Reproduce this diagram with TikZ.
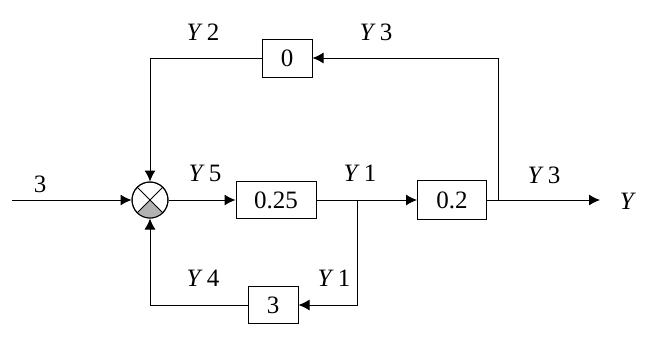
\documentclass[tikz,border=0pt]{standalone}
\usepackage{fontspec}
\setmainfont{Liberation Serif}
\usetikzlibrary{arrows.meta,positioning}

\begin{document}
\begin{tikzpicture}[
    x=0.5pt, y=-0.5pt,
    every node/.style={font=\fontsize{12.5}{14}\selectfont},
    block/.style={draw, line width=0.5pt, inner sep=0pt, minimum height=18.5pt},
    summer/.style={draw, circle, line width=0.5pt, inner sep=0pt, minimum size=18pt},
    flow/.style={-{Latex[length=5.5pt, width=5.5pt]}, line width=0.5pt},
    link/.style={line width=0.5pt}
]
\useasboundingbox (0,0) rectangle (668,337);

\node[summer] (sum) at (150,200) {};
\fill[gray!60] (sum.center) -- (sum.-45) arc[start angle=-45, end angle=-135, radius=9pt] -- cycle;
\draw[line width=0.5pt] (sum.45) -- (sum.-135);
\draw[line width=0.5pt] (sum.135) -- (sum.-45);
\draw[line width=0.5pt] (sum) circle[radius=9pt];

\node[block, minimum width=40pt] (gain1) at (276,200) {0.25};
\node[block, minimum width=34.5pt, minimum height=19.5pt] (gain2) at (452,200) {0.2};
\node[block, minimum width=25pt, minimum height=19pt] (gain0) at (287,58) {0};
\node[block, minimum width=25pt] (gain3) at (273,305) {3};

\coordinate (in) at (12,200);
\coordinate (split1) at (357,200);
\coordinate (split3) at (498,200);
\coordinate (out) at (600,200);

% forward path
\draw[flow] (in) -- (sum.west);
\draw[flow] (sum.east) -- (gain1.west);
\draw[flow] (gain1.east) -- (gain2.west);
\draw[flow] (gain2.east) -- (out);

% feedback paths
\draw[flow] (split3) |- (gain0.east);
\draw[flow] (gain0.west) -| (sum.north);
\draw[flow] (split1) |- (gain3.east);
\draw[flow] (gain3.west) -| (sum.south);

% signal labels
\node (lin) at (40,184) {3};
\node (ly5) at (205,173) {\textit{Y}\,5};
\node (ly1) at (360,173) {\textit{Y}\,1};
\node (ly3) at (544,175) {\textit{Y}\,3};
\node (ly) at (628,201) {\textit{Y}};
\node (ly2) at (203,32) {\textit{Y}\,2};
\node (ly3top) at (376,32) {\textit{Y}\,3};
\node (ly4) at (203,278) {\textit{Y}\,4};
\node (ly1bot) at (334,278) {\textit{Y}\,1};
\end{tikzpicture}
\end{document}
